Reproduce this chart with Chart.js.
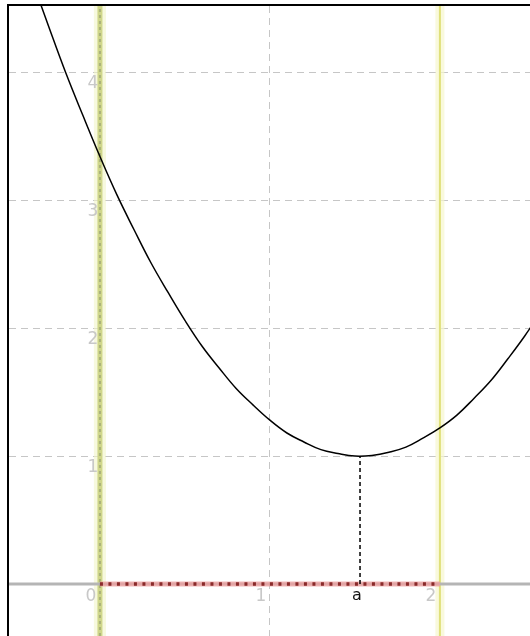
<!DOCTYPE html>
<html>
<head>
<meta charset="utf-8">
<script src="https://cdn.jsdelivr.net/npm/chart.js@4"></script>
<style>
  html, body { margin: 0; padding: 0; background: #fff; }
  canvas { display: block; }
</style>
</head>
<body>
<canvas id="plot" width="530" height="636"></canvas>
<script>
// visible window of the plot
const xMin = -0.535, xMax = 2.53;
const yMin = -0.406, yMax = 4.516;

const xTicks = [0, 1, 2];
const yTicks = [1, 2, 3, 4];

// curve
const curveX = [-0.4, -0.3, -0.2, -0.1, 0, 0.1, 0.2, 0.3, 0.4, 0.5, 0.6, 0.7, 0.8, 0.9, 1.0, 1.1, 1.2, 1.3, 1.4, 1.5, 1.6, 1.7, 1.8, 1.9, 2.0, 2.1, 2.2, 2.3, 2.4, 2.5, 2.6];
const curveY = [4.72, 4.35, 3.99, 3.66, 3.34, 3.04, 2.77, 2.51, 2.28, 2.06, 1.86, 1.69, 1.53, 1.40, 1.28, 1.18, 1.11, 1.05, 1.02, 1.00, 1.005, 1.03, 1.07, 1.14, 1.22, 1.32, 1.45, 1.59, 1.76, 1.94, 2.14];

// interval [0, 2] and the minimum point a
const intervalFrom = 0, intervalTo = 2;
const aX = 1.53, aY = 1.0;

const vline = (x, y0, y1) => [{ x, y: y0 }, { x, y: y1 }];
const hline = (y, x0, x1) => [{ x: x0, y }, { x: x1, y }];

function lineSet(data, color, width, order, dash) {
  return {
    data, borderColor: color, borderWidth: width, borderDash: dash || [],
    showLine: true, pointRadius: 0, fill: false, order, clip: 0,
  };
}

const labelsPlugin = {
  id: 'labels',
  afterDraw(chart) {
    const { ctx, chartArea, scales: { x, y } } = chart;
    ctx.save();
    ctx.font = '17px "DejaVu Sans"';
    ctx.fillStyle = '#c8c8c8';
    ctx.textAlign = 'center';
    ctx.textBaseline = 'middle';
    const y0 = y.getPixelForValue(0);
    xTicks.forEach((v) => ctx.fillText(String(v), x.getPixelForValue(v) - 9, y0 + 13));
    const x0 = x.getPixelForValue(0);
    yTicks.forEach((v) => ctx.fillText(String(v), x0 - 7, y.getPixelForValue(v) + 12));

    ctx.fillStyle = '#111';
    ctx.font = '16px "DejaVu Sans"';
    ctx.fillText('a', x.getPixelForValue(aX) - 3, y0 + 12);

    // frame
    ctx.fillStyle = '#000';
    ctx.fillRect(chartArea.left - 2, chartArea.top - 2, 2, chartArea.bottom - chartArea.top + 2);
    ctx.fillRect(chartArea.left - 2, chartArea.top - 2, chartArea.right - chartArea.left + 2, 2);
    ctx.restore();
  },
};

new Chart(document.getElementById('plot'), {
  type: 'scatter',
  data: {
    datasets: [
      lineSet(vline(intervalFrom, yMin, yMax), 'rgba(242,245,200,0.6)', 12, 20),
      lineSet(vline(intervalFrom, yMin, yMax), '#cfd68a', 5, 19),
      lineSet(vline(intervalFrom, yMin, yMax), 'rgba(140,150,110,0.55)', 2, 18, [3, 3]),
      lineSet(vline(intervalTo, yMin, yMax), 'rgba(246,246,205,0.7)', 9, 17),
      lineSet(vline(intervalTo, yMin, yMax), '#e0e07a', 2, 16),
      lineSet(hline(0, xMin, xMax), '#b5b5b5', 3, 15),
      lineSet(hline(0, intervalFrom, intervalTo), 'rgba(240,160,160,0.75)', 5, 14),
      lineSet(hline(0, intervalFrom, intervalTo), '#8a2a2a', 3.5, 13, [3, 5.5]),
      lineSet(vline(aX, 0, aY), '#000', 1.5, 12, [4, 3]),
      Object.assign(
        lineSet(curveX.map((v, i) => ({ x: v, y: curveY[i] })), '#000', 1.5, 1),
        { tension: 0.4 }
      ),
    ],
  },
  options: {
    responsive: false,
    animation: false,
    layout: { padding: { left: 9, top: 6, right: 0, bottom: 0 } },
    plugins: { legend: { display: false }, tooltip: { enabled: false } },
    scales: {
      x: {
        type: 'linear', min: xMin, max: xMax,
        afterBuildTicks: (s) => { s.ticks = xTicks.map((v) => ({ value: v })); },
        ticks: { display: false },
        border: { display: false, dash: [7, 5] },
        grid: {
          drawTicks: false,
          lineWidth: 1,
          color: (c) => (c.tick && c.tick.value === 1 ? '#c6c6c6' : 'rgba(0,0,0,0)'),
        },
      },
      y: {
        type: 'linear', min: yMin, max: yMax,
        afterBuildTicks: (s) => { s.ticks = yTicks.map((v) => ({ value: v })); },
        ticks: { display: false },
        border: { display: false, dash: [7, 5] },
        grid: { drawTicks: false, lineWidth: 1, color: '#c6c6c6' },
      },
    },
  },
  plugins: [labelsPlugin],
});
</script>
</body>
</html>
